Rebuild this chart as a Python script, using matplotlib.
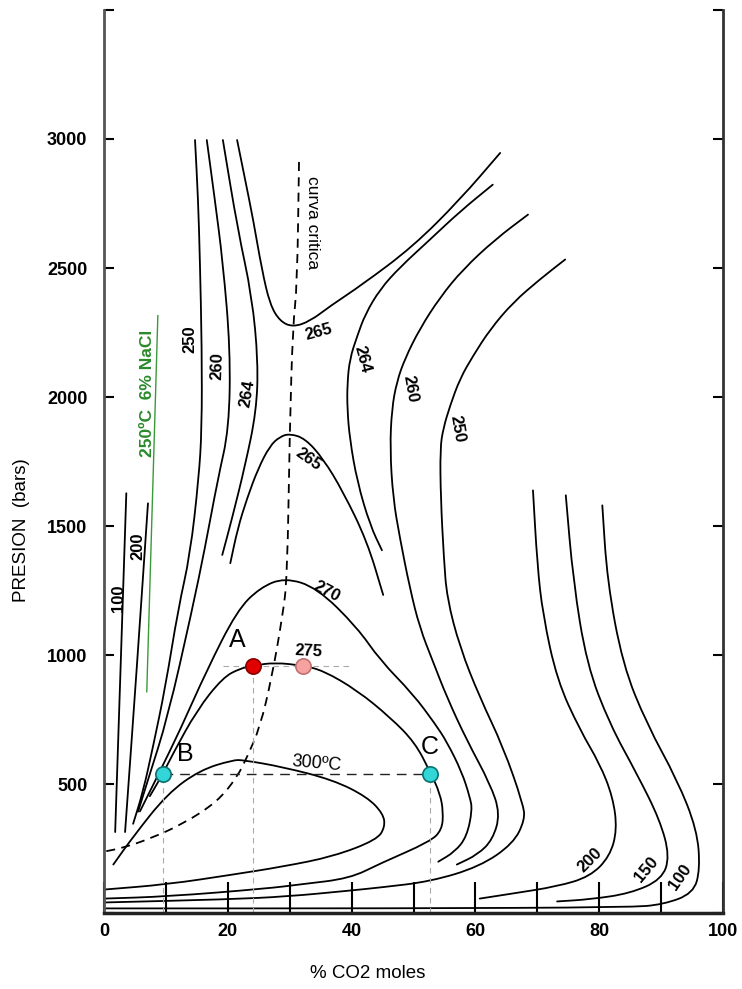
import matplotlib.pyplot as plt
from matplotlib.path import Path
from matplotlib.patches import PathPatch

plt.rcParams['font.family'] = ['Liberation Sans', 'DejaVu Sans']

# isotherms: (% CO2, bars)
iso100_left = [(3.6, 1627), (2.7, 970), (1.8, 314)]
iso200_left = [(7.1, 1588), (5.3, 951), (3.4, 314)]
nacl_line = [(8.7, 2318), (6.9, 855)]

iso250_left = [(14.7, 2996), (15.2, 2765), (15.5, 2522), (15.8, 2186), (15.8, 1877), (15.3, 1684),
               (13.9, 1387), (12.0, 1182), (9.9, 874), (7.9, 643), (6.3, 470), (4.7, 346)]
iso260_left = [(16.6, 2996), (17.9, 2765), (19.2, 2522), (20.4, 2186), (20.2, 1877), (18.4, 1684),
               (16.3, 1414), (14.2, 1171), (10.3, 759), (7.1, 516), (5.5, 393)]
iso264_left = [(19.2, 2996), (21.6, 2649), (23.9, 2391), (24.9, 2136), (24.6, 1943), (22.8, 1735),
               (20.7, 1531), (19.1, 1388)]
iso265_upper = [(21.5, 2996), (22.8, 2842), (24.1, 2687), (25.5, 2494), (26.8, 2359), (28.4, 2294),
                (30.5, 2271), (33.3, 2294), (36.5, 2352), (41.8, 2437), (49.9, 2583), (57.5, 2765),
                (64.0, 2946)]
iso265_lower = [(20.4, 1356), (21.6, 1491), (23.1, 1607), (24.9, 1723), (26.8, 1811), (28.4, 1846),
                (30.0, 1858), (32.5, 1839), (35.4, 1761), (38.6, 1634), (42.5, 1441), (45.1, 1233)]
iso264_right = [(62.8, 2823), (57.5, 2719), (52.7, 2611), (47.8, 2503), (44.6, 2418), (42.2, 2321),
                (40.9, 2236), (39.7, 2148), (39.3, 2051), (39.3, 1954), (39.7, 1838), (40.9, 1672),
                (43.0, 1502), (44.9, 1406)]
iso260_right = [(68.5, 2707), (63.2, 2611), (58.0, 2495), (54.3, 2387), (51.0, 2264), (48.6, 2148),
                (47.3, 2059), (46.5, 1955), (46.2, 1800), (46.7, 1607), (47.8, 1453), (49.4, 1260),
                (51.0, 1106), (53.2, 971), (55.4, 836), (58.6, 670), (62.4, 500), (64.0, 385),
                (62.8, 285), (60.4, 227), (57.0, 188)]
iso250_right = [(74.5, 2533), (70.4, 2456), (66.1, 2367), (62.4, 2263), (59.6, 2159), (57.5, 2071),
                (55.9, 1966), (54.8, 1878), (54.3, 1800), (54.4, 1607), (54.9, 1376), (55.4, 1221),
                (57.5, 1029), (60.7, 836), (64.5, 643), (67.7, 423), (68.0, 361), (66.1, 269),
                (60.7, 180), (52.7, 122), (44.6, 99), (39.7, 87), (29.6, 64), (19.9, 53), (0, 41)]
iso270 = [(5.8, 394), (7.4, 471), (9.0, 548), (12.3, 710), (16.6, 941), (21.5, 1173), (25.2, 1261),
          (29.2, 1300), (34.4, 1261), (40.9, 1107), (44.6, 980), (49.9, 849), (53.5, 733),
          (55.4, 663), (57.8, 547), (59.1, 450), (59.5, 400), (58.6, 296), (56.7, 238), (54.0, 199)]
iso275 = [(7.4, 453), (9.5, 539), (11.1, 616), (15.0, 786), (19.2, 913), (22.0, 948), (24.1, 959),
          (27.6, 971), (32.1, 959), (35.4, 940), (40.9, 863), (46.2, 759), (50.2, 662), (52.7, 547),
          (54.3, 462), (54.8, 392), (54.6, 323), (52.7, 277), (44.6, 192), (39.7, 134), (31.7, 111),
          (26.3, 95), (10.2, 64), (0, 56)]
iso300 = [(1.5, 188), (4.7, 296), (10.2, 462), (15.5, 554), (20.8, 593), (22.5, 593), (28.9, 566),
          (37.0, 516), (42.5, 450), (45.1, 385), (45.4, 334), (44.1, 284), (37.0, 219), (28.9, 180),
          (20.8, 149), (10.2, 111), (0, 91)]
iso200_right = [(69.3, 1638), (70.0, 1349), (70.9, 1156), (73.2, 902), (76.9, 709), (80.1, 578),
                (82.2, 450), (82.9, 323), (81.7, 219), (78.5, 141), (73.2, 103), (66.1, 76), (60.7, 56)]
iso150_right = [(74.6, 1619), (75.8, 1287), (78.0, 963), (81.7, 732), (86.1, 539), (89.8, 361),
                (91.4, 219), (90.1, 130), (85.0, 76), (78.5, 53), (73.2, 45)]
iso100_right = [(80.5, 1580), (81.3, 1287), (83.8, 963), (87.7, 732), (92.6, 516), (95.8, 323),
                (96.3, 169), (95.2, 76), (90.3, 33), (85.0, 22), (47.8, 18), (0, 18)]

critical_curve = [(31.5, 2911), (31.2, 2429), (30.5, 2275), (30.0, 1866), (29.6, 1299), (28.8, 1145),
                  (27.1, 913), (25.2, 720), (23.1, 604), (21.5, 527), (18.3, 431), (12.8, 346),
                  (7.4, 288), (3.1, 253), (0, 238)]

# points A, A', B, C
pt_A = (24.1, 959)
pt_A2 = (32.1, 959)
pt_B = (9.5, 539)
pt_C = (52.7, 539)

# curve labels: text, x, y, rotation
curve_labels = [
    ('100', 2.3, 1221, 90), ('200', 5.5, 1421, 90),
    ('250', 13.9, 2225, 90), ('260', 18.3, 2121, 88), ('264', 23.1, 2013, 80),
    ('265', 34.6, 2251, 15), ('265', 33.0, 1759, -35),
    ('264', 41.8, 2148, -75), ('260', 49.4, 2032, -80), ('250', 57.0, 1877, -80),
    ('270', 36.0, 1248, -28), ('275', 33.0, 1016, -3),
    ('200', 78.5, 207, 45), ('150', 87.7, 168, 50), ('100', 93.1, 141, 55),
]


def smooth(ax, pts, **kw):
    # quadratic bezier through the midpoints, read points act as controls
    if len(pts) < 3:
        verts, codes = list(pts), [Path.MOVETO] + [Path.LINETO] * (len(pts) - 1)
    else:
        verts = [pts[0]]
        codes = [Path.MOVETO]
        mid = lambda a, b: ((a[0] + b[0]) / 2, (a[1] + b[1]) / 2)
        verts.append(mid(pts[0], pts[1]))
        codes.append(Path.LINETO)
        for i in range(1, len(pts) - 1):
            verts += [pts[i], mid(pts[i], pts[i + 1])]
            codes += [Path.CURVE3, Path.CURVE3]
        verts.append(pts[-1])
        codes.append(Path.LINETO)
    ax.add_patch(PathPatch(Path(verts, codes), fill=False, **kw))


fig = plt.figure(figsize=(7.42, 9.89), dpi=100)
ax = fig.add_axes([0.1402, 0.0768, 0.8342, 0.9131])

solid = [iso100_left, iso200_left, iso250_left, iso260_left, iso264_left, iso265_upper,
         iso265_lower, iso264_right, iso260_right, iso250_right, iso270, iso275, iso300,
         iso200_right, iso150_right, iso100_right]
for c in solid:
    smooth(ax, c, edgecolor='black', lw=1.3, capstyle='round')

smooth(ax, nacl_line, edgecolor='#3a9a3a', lw=1.0)
smooth(ax, critical_curve, edgecolor='black', lw=1.3, linestyle=(0, (5, 3.5)))

# guide lines
ax.plot([pt_B[0], pt_C[0]], [pt_B[1], pt_C[1]], color='#222222', lw=1.0, dashes=(7, 5))
ax.plot([19.2, 39.7], [pt_A[1], pt_A[1]], color='#aaaaaa', lw=0.8, dashes=(5, 4))
for p in (pt_A, pt_B, pt_C):
    ax.plot([p[0], p[0]], [0, p[1]], color='#aaaaaa', lw=0.8, dashes=(5, 4))

ax.plot(*pt_A, 'o', ms=11, mfc='#e00000', mec='#8a0000', mew=1.2)
ax.plot(*pt_A2, 'o', ms=11, mfc='#f4a3a0', mec='#c07070', mew=1.2)
ax.plot(*pt_B, 'o', ms=11, mfc='#33d6d6', mec='#0b6f6f', mew=1.2)
ax.plot(*pt_C, 'o', ms=11, mfc='#33d6d6', mec='#0b6f6f', mew=1.2)

ax.text(21.6, 1059, 'A', fontsize=18, ha='center', va='center')
ax.text(13.1, 616, 'B', fontsize=18, ha='center', va='center')
ax.text(52.7, 643, 'C', fontsize=18, ha='center', va='center')

for t, x, y, r in curve_labels:
    ax.text(x, y, t, fontsize=12, fontweight='bold', rotation=r, ha='center', va='center',
            rotation_mode='anchor')
ax.text(34.4, 578, '300ºC', fontsize=13, rotation=-5, ha='center', va='center',
        rotation_mode='anchor')

ax.text(33.7, 2675, 'curva critica', fontsize=12.5, rotation=-90, ha='center', va='center')
ax.text(7.1, 2013, '250ºC  6% NaCl', fontsize=12.5, fontweight='bold', color='#2a8a2a',
        rotation=90, ha='center', va='center')

ax.set_xlim(0, 100)
ax.set_ylim(0, 3500)
ax.set_xticks(range(0, 101, 10))
ax.set_xticklabels([str(v) if v % 20 == 0 else '' for v in range(0, 101, 10)])
ax.set_yticks(range(0, 3501, 500))
ax.set_yticklabels(['' if v in (0, 3500) else str(v) for v in range(0, 3501, 500)])
ax.tick_params(axis='x', direction='in', length=22, width=1.5, pad=7, labelsize=13)
ax.tick_params(axis='y', direction='in', length=7, width=1.5, left=True, right=True, pad=12,
               labelsize=13)
for lbl in ax.get_xticklabels() + ax.get_yticklabels():
    lbl.set_fontweight('bold')

ax.spines['top'].set_visible(False)
ax.spines['left'].set_linewidth(2)
ax.spines['left'].set_color('#555555')
ax.spines['right'].set_linewidth(2)
ax.spines['right'].set_color('#333333')
ax.spines['bottom'].set_linewidth(2.5)
ax.spines['bottom'].set_color('#222222')

ax.set_xlabel('% CO2 moles', fontsize=13.5)
ax.xaxis.set_label_coords(0.426, -0.058)
ax.set_ylabel('PRESION  (bars)', fontsize=13.5)
ax.yaxis.set_label_coords(-0.12, 0.424)

fig.savefig('out.png', dpi=100)
